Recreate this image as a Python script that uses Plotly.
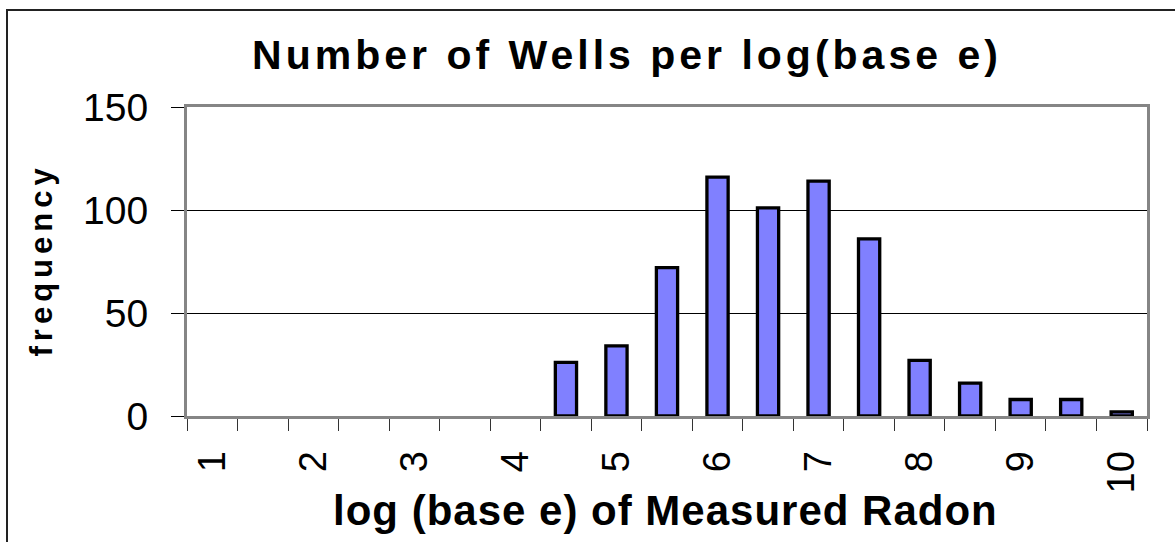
import plotly.graph_objects as go

# Data
bin_centers = [1, 1.5, 2, 2.5, 3, 3.5, 4, 4.5, 5, 5.5, 6, 6.5, 7, 7.5, 8, 8.5, 9, 9.5, 10]
frequency = [0, 0, 0, 0, 0, 0, 0, 26, 34, 72, 116, 101, 114, 86, 27, 16, 8, 8, 2]
x_tick_vals = [1, 2, 3, 4, 5, 6, 7, 8, 9, 10]
x_tick_text = ["1", "2", "3", "4", "5", "6", "7", "8", "9", "10"]
y_tick_vals = [0, 50, 100, 150]

title_text = "Number of Wells per log(base e)"
x_title = "log (base e) of Measured Radon"
y_title = "frequency"

FONT = "Liberation Sans, Arial, sans-serif"
W, H = 1175, 542
L, R, T, B = 187, 28, 107, 126
pw, ph = W - L - R, H - T - B

half = 0.25
boundaries = [c - half for c in bin_centers] + [bin_centers[-1] + half]

fig = go.Figure()
fig.add_trace(go.Bar(
    x=bin_centers,
    y=frequency,
    marker=dict(
        color="#8080FF",
        line=dict(color="black", width=[3.3 if v > 0 else 0 for v in frequency]),
    ),
    hoverinfo="x+y",
))

fig.update_layout(
    width=W, height=H,
    margin=dict(l=L, r=R, t=T, b=B, pad=0),
    paper_bgcolor="white",
    plot_bgcolor="white",
    bargap=0.58,
    showlegend=False,
    font=dict(family=FONT, color="black"),
    title=dict(
        text="<b>" + title_text + "</b>",
        font=dict(size=41, family=FONT, color="black"),
        x=627 / W, xref="container", xanchor="center",
        y=1 - 55 / H, yref="container", yanchor="middle",
    ),
    xaxis=dict(
        range=[bin_centers[0] - half, bin_centers[-1] + half],
        tickmode="array",
        tickvals=x_tick_vals,
        ticktext=x_tick_text,
        tickangle=-90,
        ticks="",
        ticklabelstandoff=17,
        tickfont=dict(size=38, family=FONT, color="black"),
        showgrid=False,
        zeroline=False,
        showline=True,
        linecolor="#858585",
        linewidth=3,
        mirror=True,
        automargin=False,
        minor=dict(
            tickmode="array",
            tickvals=boundaries,
            ticks="outside",
            ticklen=12,
            tickwidth=1,
            tickcolor="#333333",
            showgrid=False,
        ),
    ),
    yaxis=dict(
        range=[0, 150],
        tickmode="array",
        tickvals=y_tick_vals,
        ticks="outside",
        ticklen=13,
        tickwidth=1,
        tickcolor="black",
        ticklabelstandoff=15,
        tickfont=dict(size=39, family=FONT, color="black"),
        showgrid=True,
        gridcolor="black",
        gridwidth=1,
        zeroline=False,
        showline=True,
        linecolor="#858585",
        linewidth=3,
        mirror=True,
        automargin=False,
    ),
)

# Axis titles
fig.add_annotation(
    text="<b>" + x_title + "</b>",
    xref="paper", yref="paper",
    x=(665 - L) / pw, y=(416 - 510) / ph,
    xanchor="center", yanchor="middle",
    showarrow=False,
    font=dict(size=42, family=FONT, color="black"),
)
fig.add_annotation(
    text="<b>" + y_title + "</b>",
    xref="paper", yref="paper",
    x=(41 - L) / pw, y=(416 - 260) / ph,
    xanchor="center", yanchor="middle",
    textangle=-90,
    showarrow=False,
    font=dict(size=31, family=FONT, color="black"),
)

# Outer chart-area border (extends past the visible window on right and bottom)
fig.add_shape(
    type="rect",
    xref="paper", yref="paper",
    x0=(7 - L) / pw, x1=(W + 20 - L) / pw,
    y0=(416 - (H + 20)) / ph, y1=1 + (T - 10) / ph,
    line=dict(color="#222222", width=2),
    fillcolor="rgba(0,0,0,0)",
    layer="below",
)

# Remove the default page margin and widen glyph spacing like the original rendering
post = """
document.body.style.margin = '0';
document.documentElement.style.overflow = 'hidden';
var t = document.querySelector('.gtitle');
if (t) { t.style.letterSpacing = '4px'; }
var a = document.querySelectorAll('.annotation-text');
if (a.length > 0) { a[0].style.letterSpacing = '1px'; }
if (a.length > 1) { a[1].style.letterSpacing = '5px'; }
"""

fig.write_html("out.html", post_script=post, config={"displayModeBar": False})
